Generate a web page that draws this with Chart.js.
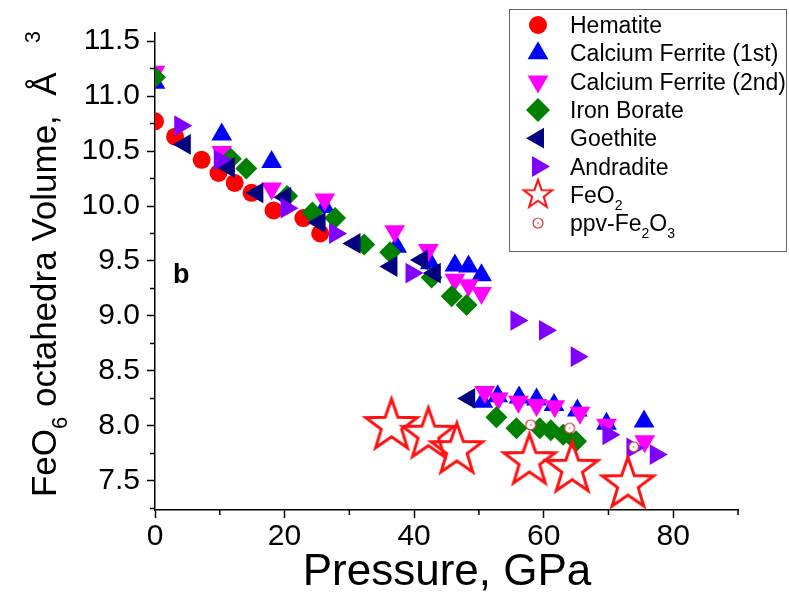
<!DOCTYPE html>
<html lang="en">
<head>
<meta charset="UTF-8">
<title>FeO6 octahedra volume vs pressure</title>
<script src="https://cdn.jsdelivr.net/npm/chart.js"></script>
<style>
  body { margin: 0; background: #fff; }
  #wrap { width: 789px; height: 599px; }
</style>
</head>
<body>
<div id="wrap"><canvas id="chart" width="789" height="599"></canvas></div>
<script>
// values: pressure (GPa) / octahedral volume (A^3)
const hematiteP = [0, 3.1, 7.2, 9.8, 12.3, 14.9, 18.3, 22.9, 25.5];
const hematiteV = [10.77, 10.63, 10.42, 10.30, 10.21, 10.12, 9.96, 9.89, 9.75];

const cf1P = [0, 10.3, 18.0, 26.2, 37.3, 42.5, 46.3, 48.4, 50.4, 50.6, 52.9, 56.2, 58.9, 61.6, 65.2, 69.7, 75.5];
const cf1V = [11.12, 10.65, 10.40, 9.99, 9.63, 9.48, 9.46, 9.45, 9.37, 8.22, 8.27, 8.26, 8.24, 8.19, 8.14, 8.02, 8.04];

const cf2P = [0, 10.3, 18.0, 26.2, 37.0, 42.2, 46.3, 48.4, 50.4, 50.9, 53.0, 56.1, 58.9, 61.7, 65.6, 69.7, 75.6];
const cf2V = [11.22, 10.49, 10.16, 10.06, 9.77, 9.60, 9.33, 9.28, 9.21, 8.31, 8.25, 8.22, 8.19, 8.18, 8.12, 8.01, 7.86];

const boratP = [0, 11.7, 14.1, 20.4, 24.3, 27.8, 32.3, 36.3, 42.7, 45.8, 48.1, 52.7, 55.8, 59.4, 61.1, 63.0, 65.0];
const boratV = [11.17, 10.43, 10.34, 10.09, 9.94, 9.89, 9.65, 9.58, 9.35, 9.18, 9.10, 8.08, 7.98, 7.98, 7.96, 7.92, 7.86];

const goethP = [4.6, 11.4, 15.8, 20.1, 25.4, 30.8, 36.5, 41.2, 43.2, 48.5];
const goethV = [10.56, 10.35, 10.12, 10.08, 9.85, 9.66, 9.45, 9.51, 9.39, 8.25];

const andrP = [3.9, 10.0, 20.3, 27.8, 39.6, 55.8, 60.2, 65.1, 70.0, 73.7, 77.3];
const andrV = [10.73, 10.42, 9.98, 9.75, 9.39, 8.96, 8.87, 8.63, 7.92, 7.80, 7.74];

const feo2P = [36.5, 42.2, 46.6, 57.8, 64.4, 73.0];
const feo2V = [8.00, 7.92, 7.78, 7.68, 7.61, 7.47];

const ppvP = [58.0, 64.0, 73.9];
const ppvV = [8.01, 7.98, 7.81];

const xTickLabels = [0, 20, 40, 60, 80];
const yTickLabels = [7.5, 8.0, 8.5, 9.0, 9.5, 10.0, 10.5, 11.0, 11.5];

const FONT = '"Liberation Sans", Arial, sans-serif';

function pts(xs, ys) {
  return xs.map((x, i) => ({ x: x, y: ys[i] }));
}

// open five-point star used for FeO2
function makeStar(R, lw, color) {
  const size = Math.ceil(2 * R + 2 * lw + 2);
  const c = document.createElement('canvas');
  c.width = c.height = size;
  const g = c.getContext('2d');
  const r = R * 0.4;
  g.beginPath();
  for (let i = 0; i < 10; i++) {
    const a = -Math.PI / 2 + i * Math.PI / 5;
    const rr = i % 2 ? r : R;
    g.lineTo(size / 2 + rr * Math.cos(a), size / 2 + rr * Math.sin(a));
  }
  g.closePath();
  g.lineJoin = 'miter';
  g.lineWidth = lw;
  g.strokeStyle = color;
  g.stroke();
  return c;
}

function makeRing(r, color) {
  const size = 2 * r + 4;
  const c = document.createElement('canvas');
  c.width = c.height = size;
  const g = c.getContext('2d');
  g.beginPath();
  g.arc(size / 2, size / 2, r, 0, Math.PI * 2);
  g.fillStyle = '#fff';
  g.fill();
  g.lineWidth = 1.2;
  g.strokeStyle = color;
  g.stroke();
  g.beginPath();
  g.arc(size / 2, size / 2, 0.8, 0, Math.PI * 2);
  g.fillStyle = color;
  g.fill();
  return c;
}

const starBig = makeStar(27, 3, '#ff1010');
const starSmall = makeStar(15, 2, '#ff1010');
const ring = makeRing(5, '#d03030');

const series = [
  { label: 'Hematite', p: hematiteP, v: hematiteV, style: 'circle', radius: 9, rot: 0, color: '#ff0000' },
  { label: 'Calcium Ferrite (1st)', p: cf1P, v: cf1V, style: 'triangle', radius: 12, rot: 0, color: '#0000ff', clip: 0 },
  { label: 'Calcium Ferrite (2nd)', p: cf2P, v: cf2V, style: 'triangle', radius: 12, rot: 180, color: '#ff00ff', clip: 0 },
  { label: 'Iron Borate', p: boratP, v: boratV, style: 'rectRot', radius: 11, rot: 0, color: '#008000', clip: 0 },
  { label: 'Goethite', p: goethP, v: goethV, style: 'triangle', radius: 12, rot: 270, color: '#000080' },
  { label: 'Andradite', p: andrP, v: andrV, style: 'triangle', radius: 12, rot: 90, color: '#8000ff' },
  { label: 'FeO_2', p: feo2P, v: feo2V, style: starBig, legendStyle: starSmall, radius: 27, rot: 0, color: '#ff1010' },
  { label: 'ppv-Fe_2O_3', p: ppvP, v: ppvV, style: ring, radius: 5, rot: 0, color: '#d03030' }
];

const datasets = series.map((s, i) => {
  const d = {
    label: s.label,
    data: pts(s.p, s.v),
    pointStyle: s.style,
    pointRadius: s.radius,
    pointRotation: s.rot,
    backgroundColor: s.color,
    borderColor: s.color,
    pointBorderWidth: 0,
    showLine: false,
    order: series.length - i
  };
  if (s.clip !== undefined) d.clip = s.clip;
  return d;
});

// text with _x subscripts and ^x superscripts
function parseRich(s) {
  const out = [];
  for (let i = 0; i < s.length; i++) {
    const ch = s[i];
    if ((ch === '_' || ch === '^') && i + 1 < s.length) {
      out.push([s[i + 1], ch === '_' ? 1 : 2]);
      i++;
    } else if (out.length && out[out.length - 1][1] === 0) {
      out[out.length - 1][0] += ch;
    } else {
      out.push([ch, 0]);
    }
  }
  return out;
}

function drawRich(ctx, s, x, y, size, align) {
  const parts = parseRich(s);
  const fontOf = m => (m ? Math.round(size * 0.62) : size) + 'px ' + FONT;
  let w = 0;
  parts.forEach(p => { ctx.font = fontOf(p[1]); w += ctx.measureText(p[0]).width; });
  let cx = align === 'center' ? x - w / 2 : x;
  ctx.textAlign = 'left';
  ctx.textBaseline = 'alphabetic';
  parts.forEach(p => {
    ctx.font = fontOf(p[1]);
    const dy = p[1] === 1 ? size * 0.3 : (p[1] === 2 ? -size * 0.45 : 0);
    ctx.fillText(p[0], cx, y + dy);
    cx += ctx.measureText(p[0]).width;
  });
}

const isLabelX = v => xTickLabels.includes(v);
const isLabelY = v => yTickLabels.some(t => Math.abs(t - v) < 1e-6);

const decorations = {
  id: 'decorations',
  afterDraw(chart) {
    const ctx = chart.ctx;
    const xs = chart.scales.x, ys = chart.scales.y;
    const area = chart.chartArea;
    ctx.save();

    // minor ticks, shorter than the labelled ones
    ctx.strokeStyle = '#000';
    ctx.lineWidth = 1.5;
    ctx.beginPath();
    xs.ticks.forEach(t => {
      if (isLabelX(t.value)) return;
      const px = xs.getPixelForValue(t.value);
      ctx.moveTo(px, area.bottom);
      ctx.lineTo(px, area.bottom + 5);
    });
    ys.ticks.forEach(t => {
      if (isLabelY(t.value)) return;
      const py = ys.getPixelForValue(t.value);
      ctx.moveTo(area.left, py);
      ctx.lineTo(area.left - 5, py);
    });
    ctx.stroke();

    ctx.fillStyle = '#000';
    // axis titles
    drawRich(ctx, 'Pressure, GPa', 447, 585, 44, 'center');
    ctx.save();
    ctx.translate(56, 264);
    ctx.rotate(-Math.PI / 2);
    drawRich(ctx, 'FeO_6 octahedra Volume,  \u00C5   ^3', 0, 0, 35, 'center');
    ctx.restore();

    // panel letter
    ctx.font = 'bold 27px ' + FONT;
    ctx.textAlign = 'left';
    ctx.textBaseline = 'alphabetic';
    ctx.fillText('b', 173, 283);

    // legend box
    ctx.fillStyle = '#fff';
    ctx.fillRect(509, 9, 277, 243);
    ctx.strokeStyle = '#666';
    ctx.lineWidth = 1;
    ctx.strokeRect(509.5, 9.5, 277, 242);
    series.forEach((s, i) => {
      const y = 25 + i * 28.3;
      const st = s.legendStyle || s.style;
      ctx.fillStyle = s.color;
      ctx.strokeStyle = s.color;
      Chart.helpers.drawPoint(ctx, {
        pointStyle: st,
        radius: s.style === 'circle' ? 9 : 12,
        rotation: s.rot,
        borderWidth: 0
      }, 538, y);
      ctx.fillStyle = '#000';
      drawRich(ctx, s.label, 570, y + 8, 23, 'left');
    });
    ctx.restore();
  }
};

const tickFont = { family: FONT, size: 30 };

new Chart(document.getElementById('chart'), {
  type: 'scatter',
  data: { datasets: datasets },
  plugins: [decorations],
  options: {
    responsive: false,
    animation: false,
    events: [],
    layout: { padding: { top: 33, right: 51, left: 0, bottom: 0 } },
    plugins: { legend: { display: false }, tooltip: { enabled: false } },
    scales: {
      x: {
        type: 'linear',
        min: 0,
        max: 90,
        afterFit: s => { s.height = 89; },
        border: { display: true, color: '#000', width: 1.5 },
        grid: {
          drawOnChartArea: false, drawTicks: true, tickLength: 8, tickWidth: 1.5,
          tickColor: c => isLabelX(c.tick.value) ? '#000' : 'rgba(0,0,0,0)'
        },
        ticks: {
          stepSize: 10,
          includeBounds: false,
          autoSkip: false,
          maxRotation: 0,
          padding: 1,
          color: '#000',
          font: tickFont,
          callback: v => isLabelX(v) ? String(v) : ''
        }
      },
      y: {
        type: 'linear',
        min: 7.236,
        max: 11.573,
        afterFit: s => { s.width = 155; },
        border: { display: true, color: '#000', width: 1.5 },
        grid: {
          drawOnChartArea: false, drawTicks: true, tickLength: 8, tickWidth: 1.5,
          tickColor: c => isLabelY(c.tick.value) ? '#000' : 'rgba(0,0,0,0)'
        },
        ticks: {
          stepSize: 0.25,
          includeBounds: false,
          autoSkip: false,
          padding: 7,
          color: '#000',
          font: tickFont,
          callback: v => isLabelY(v) ? v.toFixed(1) : ''
        }
      }
    }
  }
});
</script>
</body>
</html>
